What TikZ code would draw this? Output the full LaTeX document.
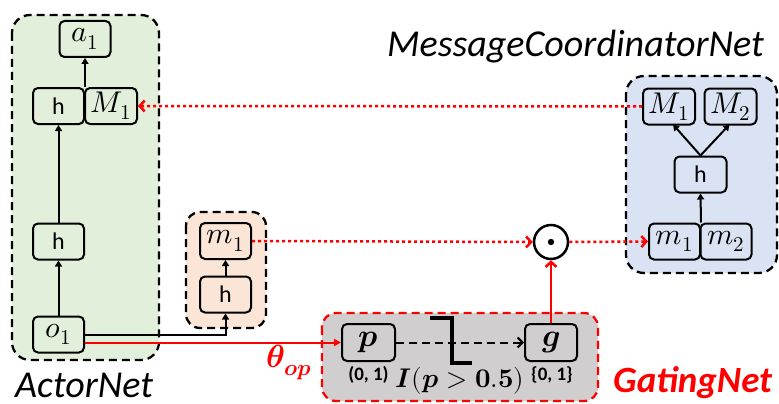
\documentclass[tikz,border=0pt]{standalone}
\usepackage{fontspec}
\usepackage{unicode-math}
\setmainfont{Carlito}
\setmathfont{Latin Modern Math}
\usetikzlibrary{arrows.meta,calc}
\definecolor{gfill}{HTML}{E2EFDA}
\definecolor{ofill}{HTML}{FBE5D6}
\definecolor{bfill}{HTML}{DAE3F3}
\definecolor{grfill}{HTML}{D0CECE}
\definecolor{myred}{HTML}{FF0000}
\newcommand{\nodemath}[1]{{\fontsize{30}{32}\selectfont$#1$}}
\tikzset{
  nbox/.style={draw, line width=2pt, rounded corners=5pt, minimum width=51pt, minimum height=36pt, inner sep=0pt, font=\fontsize{24}{26}\selectfont},
  grp/.style={draw, line width=2.3pt, dash pattern=on 8pt off 5pt, rounded corners=18pt},
  blk/.style={line width=2pt, -{Triangle[length=6pt,width=7pt]}},
  rdot/.style={myred, line width=2.5pt, dash pattern=on 3pt off 3pt, -{Straight Barb[length=5pt,width=11pt,line width=2.5pt]}},
  rsol/.style={myred, line width=2pt},
  lbl/.style={inner sep=0pt, anchor=base west},
  small/.style={font=\bfseries\fontsize{19}{21}\selectfont, inner sep=0pt},
}
\begin{document}
\begin{tikzpicture}[x=1pt,y=-1pt]
\useasboundingbox (0,0) rectangle (779,404);
% group backgrounds
\draw[grp, fill=gfill] (12,15) rectangle (159,360);
\draw[grp, fill=ofill, rounded corners=14pt] (186,212) rectangle (266,328);
\draw[grp, fill=bfill] (626,76) rectangle (777,273);
\draw[grp, myred, fill=grfill, rounded corners=14pt] (322,313) rectangle (598,401);
% ActorNet nodes
\node[nbox] (a1) at (85,39) {\nodemath{a_1}};
\node[nbox] (hA) at (58.5,106) {h};
\node[nbox, minimum width=52pt] (MA) at (111,106) {\nodemath{M_1}};
\node[nbox] (hB) at (58.5,241.5) {h};
\node[nbox] (o1) at (58.5,334.5) {\nodemath{o_1}};
% message net nodes
\node[nbox] (mO) at (225.5,241) {\nodemath{m_1}};
\node[nbox] (hO) at (225.5,294.5) {h};
% coordinator nodes
\node[nbox, minimum width=52pt] (MB1) at (669,106.5) {\nodemath{M_1}};
\node[nbox, minimum width=52pt] (MB2) at (730.5,106.5) {\nodemath{M_2}};
\node[nbox, minimum width=52pt] (hC) at (700.5,174.5) {h};
\node[nbox] (mB1) at (674.5,241.5) {\nodemath{m_1}};
\node[nbox] (mB2) at (726,241.5) {\nodemath{m_2}};
% gating nodes
\node[nbox, minimum width=53pt, minimum height=37pt] (p) at (368.5,342.5) {{\fontsize{32}{34}\selectfont$\symbfit{p}$}};
\node[nbox, minimum width=52pt, minimum height=37pt] (g) at (551,342.5) {{\fontsize{32}{34}\selectfont$\symbfit{g}$}};
% odot
\node[draw, circle, line width=2.5pt, minimum size=34pt, inner sep=0pt] (od) at (551,242) {};
\fill (od.center) circle (3.2pt);
% black arrows
\draw[blk] (o1) -- (hB);
\draw[blk] (hB) -- (hA);
\draw[blk] (a1.south |- hA.north) -- (a1.south);
\draw[blk] (o1.east) -| (hO.south);
\draw[blk] (hO) -- (mO);
\draw[blk] (mB1.north east) -- (hC.south);
\draw[blk] (hC.north) -- ($(MB1.south)+(4,-1)$);
\draw[blk] (hC.north) -- ($(MB2.south)+(-1,-1)$);
% red connectors
\draw[rsol, -{Triangle[length=7pt,width=7pt]}] (o1.east |- p.west) -- (p.west);
\draw[rsol, line width=2.5pt, -{Straight Barb[length=5pt,width=11pt,line width=2.5pt]}] (g.north) -- (od.south);
\draw[rdot] (MB1.west) -- (MA.east);
\draw[rdot] (mO.east) -- (od.west);
\draw[rdot] (od.east) -- (mB1.west);
% gating internals
\draw[line width=2pt, dash pattern=on 8pt off 5pt, -{Straight Barb[length=5pt,width=10pt,line width=2pt]}] (p.east) -- (g.west);
\draw[line width=3.5pt] (430,318) -- (452,318) -- (452,363) -- (472,363);
\node[small] (pl) at (368.5,374.5) {(0, 1)};
\node[small] (gl) at (552,374.5) {\{0, 1\}};
\node[inner sep=0pt] (il) at (460,380.5) {{\fontsize{27}{29}\selectfont$\symbfit{I}(\symbfit{p}>\symbf{0.5})$}};
% labels
\node[myred] (th) at (289,362) {{\fontsize{32}{34}\selectfont$\symbfit{\theta}_{\symbfit{op}}$}};
\node[lbl, font=\itshape\fontsize{38}{42}\selectfont] (an) at (15,397) {ActorNet};
\node[lbl, font=\itshape\fontsize{38}{42}\selectfont] (mc) at (387,57) {MessageCoordinatorNet};
\node[lbl, myred, font=\bfseries\itshape\fontsize{37}{40}\selectfont] (gn) at (613,392) {GatingNet};
\end{tikzpicture}
\end{document}
